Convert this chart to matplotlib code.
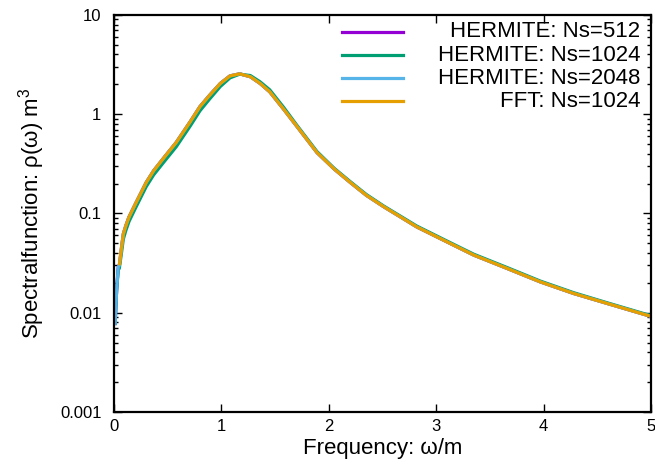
import matplotlib
matplotlib.use("Agg")
import matplotlib.pyplot as plt
from matplotlib.ticker import FuncFormatter, LogLocator, FixedLocator

plt.rcParams["font.family"] = ["Liberation Sans", "DejaVu Sans"]
plt.rcParams["mathtext.fontset"] = "custom"
plt.rcParams["mathtext.rm"] = "Liberation Sans"

# frequency grid (omega/m)
omega = [0.01, 0.025, 0.04, 0.05, 0.07, 0.087, 0.11, 0.14, 0.20, 0.25, 0.30, 0.37,
         0.47, 0.58, 0.71, 0.80, 0.89, 0.99, 1.08, 1.17, 1.27, 1.36, 1.45, 1.58,
         1.70, 1.89, 2.05, 2.20, 2.35, 2.51, 2.82, 3.13, 3.35, 3.66, 3.97, 4.28,
         4.59, 4.96, 5.0]

# hermite results (the low-omega start is visible)
herm_512 = [0.0075, 0.017, 0.029, 0.030, 0.045, 0.062, 0.075, 0.092, 0.125, 0.16, 0.205, 0.27,
            0.37, 0.52, 0.84, 1.19, 1.55, 2.04, 2.43, 2.55, 2.38, 2.04, 1.68, 1.12,
            0.76, 0.41, 0.28, 0.205, 0.152, 0.117, 0.073, 0.0498, 0.038, 0.0279, 0.0204, 0.0156,
            0.0124, 0.00944, 0.0092]
herm_1024 = [0.0075, 0.017, 0.027, 0.028, 0.040, 0.055, 0.067, 0.083, 0.113, 0.145, 0.186, 0.245,
             0.335, 0.47, 0.76, 1.08, 1.42, 1.90, 2.32, 2.53, 2.45, 2.12, 1.76, 1.17,
             0.78, 0.42, 0.285, 0.209, 0.155, 0.119, 0.0745, 0.0508, 0.0388, 0.0285, 0.0208, 0.0159,
             0.0126, 0.0096, 0.0094]
herm_2048 = [0.0075, 0.017, 0.029, 0.030, 0.045, 0.062, 0.075, 0.092, 0.125, 0.16, 0.205, 0.27,
             0.37, 0.52, 0.84, 1.19, 1.55, 2.04, 2.43, 2.55, 2.38, 2.04, 1.68, 1.12,
             0.76, 0.41, 0.28, 0.205, 0.152, 0.117, 0.073, 0.0498, 0.038, 0.0279, 0.0204, 0.0156,
             0.0124, 0.00944, 0.0092]

# FFT result starts at omega = 0.05
omega_fft = omega[3:]
fft_1024 = [0.030, 0.045, 0.062, 0.075, 0.092, 0.125, 0.16, 0.205, 0.27,
            0.37, 0.52, 0.84, 1.19, 1.55, 2.04, 2.43, 2.55, 2.38, 2.04, 1.68, 1.12,
            0.76, 0.41, 0.28, 0.205, 0.152, 0.117, 0.073, 0.0498, 0.038, 0.0279, 0.0204, 0.0156,
            0.0124, 0.00944, 0.0092]

series = [
    ("HERMITE: Ns=512", omega, herm_512, "#9400d3"),
    ("HERMITE: Ns=1024", omega, herm_1024, "#009e73"),
    ("HERMITE: Ns=2048", omega, herm_2048, "#56b4e9"),
    ("FFT: Ns=1024", omega_fft, fft_1024, "#e69f00"),
]

fig = plt.figure(figsize=(6.55, 4.66), dpi=100)
ax = fig.add_axes([0.174, 0.116, 0.820, 0.852])

for label, x, y, color in series:
    ax.plot(x, y, color=color, lw=2.3, solid_capstyle="butt", solid_joinstyle="round")

ax.set_yscale("log")
ax.set_xlim(0, 5)
ax.set_ylim(0.001, 10)
ax.xaxis.set_major_locator(FixedLocator([0, 1, 2, 3, 4, 5]))
ax.yaxis.set_major_locator(LogLocator(base=10, numticks=10))
ax.yaxis.set_minor_locator(LogLocator(base=10, subs=range(2, 10), numticks=10))
ax.yaxis.set_major_formatter(FuncFormatter(lambda v, p: f"{v:g}"))
ax.tick_params(which="both", direction="in", top=True, right=True, labelsize=12, width=1)
ax.tick_params(which="major", length=6)
ax.tick_params(which="minor", length=3)
ax.tick_params(axis="x", pad=5)
ax.tick_params(axis="y", pad=9)
for s in ax.spines.values():
    s.set_linewidth(1.6)

ax.set_xlabel("Frequency: ω/m", fontsize=16, labelpad=3)
ax.set_ylabel("Spectralfunction: ρ(ω) m$^3$", fontsize=16, labelpad=9)

# gnuplot style key: sample line left, text right aligned
rows = [0.957, 0.899, 0.841, 0.783]
for (label, x, y, color), ry in zip(series, rows):
    ax.plot([0.425, 0.538], [ry, ry], color=color, lw=2.3, transform=ax.transAxes)
    ax.text(0.98, ry, label, ha="right", va="center", fontsize=16,
            transform=ax.transAxes)

fig.savefig("out.png", dpi=100)
